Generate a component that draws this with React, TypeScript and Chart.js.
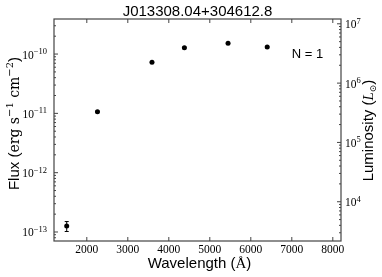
import React, { useEffect, useRef } from "react";
import { Chart, registerables } from "chart.js";

Chart.register(...registerables);

const title = "J013308.04+304612.8";
const wavelengths = [1510, 2260, 3590, 4380, 5445, 6400];
const fluxes = [1.26e-13, 1.07e-11, 7.3e-11, 1.28e-10, 1.52e-10, 1.31e-10];
const fluxErrors = [2.4e-14, 2e-13, 1.4e-12, 2.5e-12, 3e-12, 2.6e-12];
const xTicks = [2000, 3000, 4000, 5000, 6000, 7000, 8000];
const xRange = [1200, 8200];
const fluxRange = [7.05e-14, 3.9e-10];
const lumRange = [2178, 1.205e7];
const fluxExponents = [-13, -12, -11, -10];
const lumExponents = [4, 5, 6, 7];
const annotation = "N = 1";

const SANS = "'Liberation Sans', Arial, Helvetica, sans-serif";
const SERIF = "'Liberation Serif', 'DejaVu Serif', serif";
const MATH = "'DejaVu Serif', 'Liberation Serif', serif";
const MINUS = "\u2212";

type Run = { t: string; f: string; dy?: number };

function drawRuns(ctx: CanvasRenderingContext2D, runs: Run[], x: number, y: number, rot: number, align: string) {
  ctx.save();
  ctx.translate(x, y);
  ctx.rotate(rot);
  let total = 0;
  const widths = runs.map((r) => {
    ctx.font = r.f;
    const w = ctx.measureText(r.t).width;
    total += w;
    return w;
  });
  let cx = align === "center" ? -total / 2 : align === "right" ? -total : 0;
  ctx.textBaseline = "alphabetic";
  ctx.textAlign = "left";
  runs.forEach((r, i) => {
    ctx.font = r.f;
    ctx.fillText(r.t, cx, r.dy || 0);
    cx += widths[i];
  });
  ctx.restore();
}

function expLabel(e: number): Run[] {
  const s = e < 0 ? MINUS + String(-e) : String(e);
  return [
    { t: "10", f: `11.5px ${SERIF}` },
    { t: s, f: `8.5px ${SERIF}`, dy: -4.5 },
  ];
}

const sedPlugin = {
  id: "sedPlugin",
  beforeDatasetsDraw(chart: any) {
    const ctx = chart.ctx as CanvasRenderingContext2D;
    const xs = chart.scales.x;
    const ys = chart.scales.y;
    ctx.save();
    ctx.strokeStyle = "#000";
    ctx.lineWidth = 1;
    wavelengths.forEach((w, i) => {
      const px = xs.getPixelForValue(w);
      const lo = ys.getPixelForValue(fluxes[i] - fluxErrors[i]);
      const hi = ys.getPixelForValue(fluxes[i] + fluxErrors[i]);
      ctx.beginPath();
      ctx.moveTo(px, lo);
      ctx.lineTo(px, hi);
      ctx.moveTo(px - 2, lo);
      ctx.lineTo(px + 2, lo);
      ctx.moveTo(px - 2, hi);
      ctx.lineTo(px + 2, hi);
      ctx.stroke();
    });
    ctx.restore();
  },
  afterDraw(chart: any) {
    const ctx = chart.ctx as CanvasRenderingContext2D;
    const { left, right, top, bottom } = chart.chartArea;
    const xs = chart.scales.x;
    const ys = chart.scales.y;
    const y2 = chart.scales.y2;
    ctx.save();
    ctx.strokeStyle = "#444";
    ctx.lineWidth = 1.2;
    ctx.strokeRect(left, top, right - left, bottom - top);

    ctx.lineWidth = 1;
    ctx.beginPath();
    xTicks.forEach((v) => {
      const px = xs.getPixelForValue(v);
      ctx.moveTo(px, bottom);
      ctx.lineTo(px, bottom - 4);
      ctx.moveTo(px, top);
      ctx.lineTo(px, top + 4);
    });
    const logTicks = (scale: any, x0: number, dir: number) => {
      const lo = Math.floor(Math.log10(scale.min));
      const hi = Math.ceil(Math.log10(scale.max));
      for (let d = lo; d <= hi; d++) {
        for (let m = 1; m <= 9; m++) {
          const v = m * Math.pow(10, d);
          if (v < scale.min || v > scale.max) continue;
          const py = scale.getPixelForValue(v);
          const len = m === 1 ? 4 : 2;
          ctx.moveTo(x0, py);
          ctx.lineTo(x0 + dir * len, py);
        }
      }
    };
    logTicks(ys, left, 1);
    logTicks(y2, right, -1);
    ctx.stroke();

    ctx.fillStyle = "#000";
    ctx.font = `11.5px ${SERIF}`;
    ctx.textAlign = "center";
    ctx.textBaseline = "alphabetic";
    xTicks.forEach((v) => {
      ctx.fillText(String(v), xs.getPixelForValue(v), bottom + 12);
    });
    fluxExponents.forEach((e) => {
      const py = ys.getPixelForValue(Math.pow(10, e));
      drawRuns(ctx, expLabel(e), left - 7, py + 4.5, 0, "right");
    });
    lumExponents.forEach((e) => {
      const py = y2.getPixelForValue(Math.pow(10, e));
      drawRuns(ctx, expLabel(e), right + 4, py + 4.5, 0, "left");
    });

    drawRuns(ctx, [{ t: title, f: `15px ${SANS}` }], (left + right) / 2, 16, 0, "center");
    drawRuns(
      ctx,
      [
        { t: "Wavelength (", f: `15px ${SANS}` },
        { t: "\u00C5", f: `15px ${SERIF}` },
        { t: ")", f: `15px ${SANS}` },
      ],
      199.5,
      268,
      0,
      "center"
    );
    drawRuns(
      ctx,
      [
        { t: "Flux (", f: `15px ${SANS}` },
        { t: "erg s", f: `14px ${MATH}` },
        { t: MINUS + "1", f: `10px ${MATH}`, dy: -6 },
        { t: " cm", f: `14px ${MATH}` },
        { t: MINUS + "2", f: `10px ${MATH}`, dy: -6 },
        { t: ")", f: `15px ${SANS}` },
      ],
      18.5,
      123.5,
      -Math.PI / 2,
      "center"
    );
    drawRuns(
      ctx,
      [
        { t: "Luminosity (", f: `15px ${SANS}` },
        { t: "L", f: `italic 15px ${SERIF}` },
        { t: "\u2299", f: `9px ${MATH}`, dy: 3 },
        { t: ")", f: `15px ${SANS}` },
      ],
      373,
      130.5,
      -Math.PI / 2,
      "center"
    );
    drawRuns(ctx, [{ t: annotation, f: `13px ${SANS}` }], 291.7, 58, 0, "left");
    ctx.restore();
  },
};

export default function App() {
  const ref = useRef<HTMLCanvasElement | null>(null);
  useEffect(() => {
    if (!ref.current) return;
    const chart = new Chart(ref.current, {
      type: "scatter",
      data: {
        datasets: [
          {
            data: wavelengths.map((w, i) => ({ x: w, y: fluxes[i] })),
            backgroundColor: "#000",
            borderColor: "#000",
            borderWidth: 0,
            pointRadius: 2.5,
            showLine: false,
          },
        ],
      },
      options: {
        responsive: false,
        animation: false,
        devicePixelRatio: 1,
        layout: { padding: { left: 54, right: 41, top: 19, bottom: 36 } },
        plugins: { legend: { display: false }, tooltip: { enabled: false }, title: { display: false } },
        scales: {
          x: { type: "linear", min: xRange[0], max: xRange[1], display: false },
          y: { type: "logarithmic", min: fluxRange[0], max: fluxRange[1], display: false },
          y2: { type: "logarithmic", position: "right", min: lumRange[0], max: lumRange[1], display: false },
        },
      },
      plugins: [sedPlugin],
    });
    return () => chart.destroy();
  }, []);
  return (
    <div style={{ position: "absolute", left: 0, top: 0, width: 382, height: 277, background: "#fff" }}>
      <canvas ref={ref} width={382} height={277} style={{ display: "block" }} />
    </div>
  );
}
